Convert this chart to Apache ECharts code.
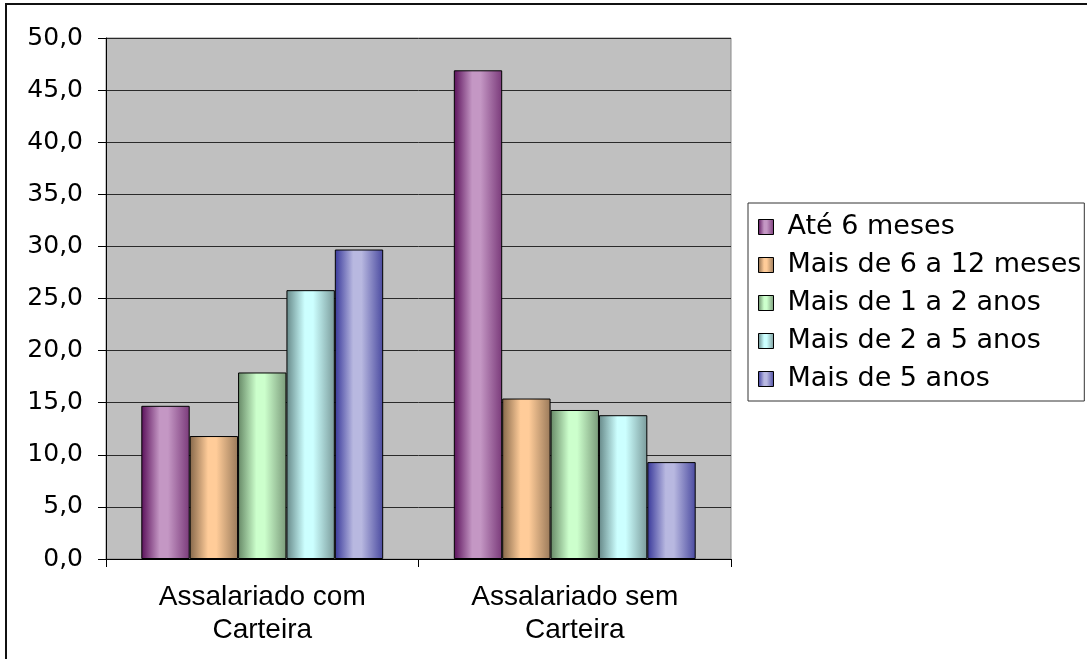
<!DOCTYPE html>
<html>
<head>
<meta charset="utf-8">
<script src="https://cdn.jsdelivr.net/npm/echarts@6/dist/echarts.min.js"></script>
<style>
html,body{margin:0;padding:0;background:#fff;}
#chart{width:1087px;height:659px;}
</style>
</head>
<body>
<div id="chart"></div>
<script>
// ---- data ----
const categories = ['Assalariado com\nCarteira', 'Assalariado sem\nCarteira'];
const seriesNames = ['Até 6 meses', 'Mais de 6 a 12 meses', 'Mais de 1 a 2 anos', 'Mais de 2 a 5 anos', 'Mais de 5 anos'];
const ate6meses   = [14.7, 46.9];
const de6a12meses = [11.8, 15.4];
const de1a2anos   = [17.9, 14.3];
const de2a5anos   = [25.8, 13.8];
const mais5anos   = [29.7, 9.3];
const yTicks = [0, 5, 10, 15, 20, 25, 30, 35, 40, 45, 50];

const seriesValues = [ate6meses, de6a12meses, de1a2anos, de2a5anos, mais5anos];
const palette = [
  ['#5A105A', '#C497C4', '#7A3A7A'],
  ['#85674A', '#FFCC99', '#9A7A5A'],
  ['#668866', '#CCFFCC', '#7A9A7A'],
  ['#668888', '#CCFFFF', '#7A9A9A'],
  ['#38389A', '#B8B8E0', '#4A4AA0']
];
function grad(p) {
  return new echarts.graphic.LinearGradient(0, 0, 1, 0, [
    {offset: 0, color: p[0]},
    {offset: 0.38, color: p[1]},
    {offset: 0.55, color: p[1]},
    {offset: 1, color: p[2]}
  ]);
}

const chart = echarts.init(document.getElementById('chart'));
chart.setOption({
  animation: false,
  backgroundColor: '#fff',
  graphic: [{
    type: 'rect',
    shape: {x: 6, y: 4, width: 1100, height: 700},
    style: {fill: 'none', stroke: '#111', lineWidth: 2},
    silent: true
  }],
  grid: {
    left: 106, right: 356, top: 38, bottom: 100,
    show: true, backgroundColor: '#C0C0C0', borderColor: '#8a8a8a', borderWidth: 1
  },
  legend: {
    orient: 'vertical',
    left: 748, top: 203,
    padding: [10, 3, 8, 10],
    backgroundColor: '#fff',
    borderColor: '#333', borderWidth: 1,
    itemWidth: 15, itemHeight: 15, itemGap: 10,
    icon: 'rect',
    itemStyle: {borderColor: '#000', borderWidth: 1},
    textStyle: {fontFamily: 'DejaVu Sans', fontSize: 27, color: '#000', lineHeight: 28, padding: [0, 0, 0, 9]},
    data: seriesNames
  },
  xAxis: {
    type: 'category',
    data: categories,
    axisLine: {lineStyle: {color: '#000', width: 1}},
    axisTick: {show: true, length: 8, lineStyle: {color: '#000'}},
    axisLabel: {fontFamily: 'Liberation Sans', fontSize: 28, color: '#000', lineHeight: 33, margin: 22, interval: 0}
  },
  yAxis: {
    type: 'value',
    min: yTicks[0], max: yTicks[yTicks.length - 1], interval: yTicks[1] - yTicks[0],
    axisLine: {show: true, lineStyle: {color: '#000', width: 1}},
    axisTick: {show: true, length: 8, lineStyle: {color: '#000'}},
    splitLine: {lineStyle: {color: '#2a2a2a', width: 1}},
    axisLabel: {
      fontFamily: 'DejaVu Sans', fontSize: 25, color: '#000', margin: 23,
      formatter: v => v.toFixed(1).replace('.', ',')
    }
  },
  series: seriesNames.map((name, i) => ({
    name: name,
    type: 'bar',
    data: seriesValues[i],
    barGap: '0%',
    barCategoryGap: '22.6%',
    itemStyle: {color: grad(palette[i]), borderColor: '#000', borderWidth: 1}
  }))
});
</script>
</body>
</html>
